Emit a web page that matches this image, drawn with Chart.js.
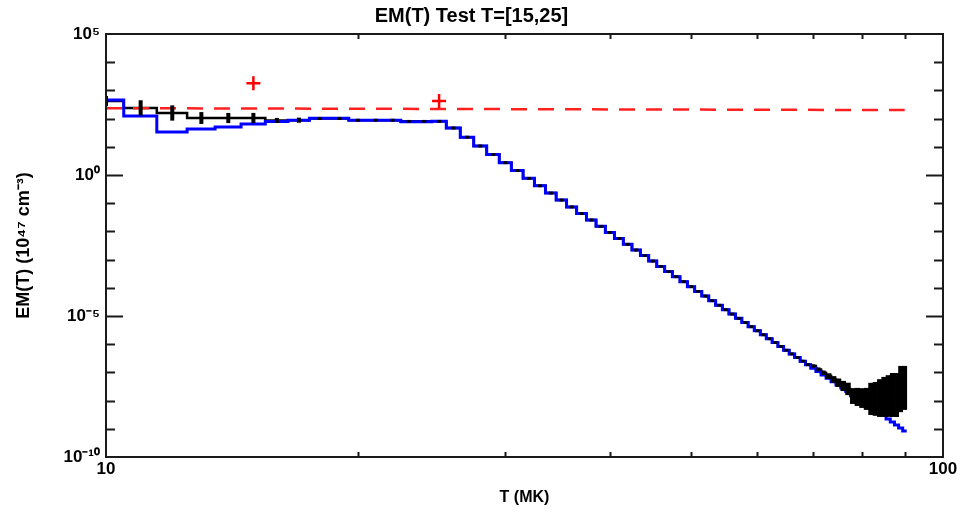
<!DOCTYPE html>
<html>
<head>
<meta charset="utf-8">
<title>EM(T) Test</title>
<script src="https://cdn.jsdelivr.net/npm/chart.js@4.4.1/dist/chart.umd.min.js"></script>
<style>
  html, body { margin: 0; padding: 0; background: #fff; }
  #wrap { width: 964px; height: 516px; }
</style>
</head>
<body>
<div id="wrap"><canvas id="dem" width="964" height="516"></canvas></div>
<script>
// temperature bins (MK), one histogram step each
const binT = [10, 11, 12, 13, 14, 15, 16, 17, 18, 19, 20, 21, 22, 23, 24, 25,
  26, 27, 28, 29, 30, 31, 32, 33, 34, 35, 36, 37, 38, 39, 40, 41, 42, 43, 44, 45,
  46, 47, 48, 49, 50, 51, 52, 53, 54, 55, 56, 57, 58, 59, 60, 61, 62, 63, 64, 65,
  66, 67, 68, 69, 70, 71, 72, 73, 74, 75, 76, 77, 78, 79, 80, 81, 82, 83, 84, 85,
  86, 87, 88, 89, 90];

// input (true) EM, blue histogram
const trueEM = [457, 123, 33.5, 42.7, 50, 64.6, 79, 87, 102, 102, 87, 87, 87, 78, 78, 80,
  46.5, 22.0, 10.7, 5.33, 2.73, 1.43, 0.760, 0.414, 0.229, 0.129,
  0.0738, 0.0430, 0.0253, 0.0151, 9.16e-3, 5.62e-3, 3.49e-3, 2.19e-3, 1.39e-3, 8.89e-4,
  5.75e-4, 3.76e-4, 2.48e-4, 1.65e-4, 1.10e-4, 7.46e-5, 5.08e-5, 3.48e-5, 2.41e-5, 1.67e-5,
  1.17e-5, 8.26e-6, 5.85e-6, 4.17e-6, 2.99e-6, 2.15e-6, 1.56e-6, 1.14e-6, 8.34e-7, 6.12e-7,
  4.53e-7, 3.37e-7, 2.51e-7, 1.88e-7, 1.41e-7, 1.07e-7, 8.09e-8, 6.15e-8, 4.70e-8, 3.61e-8,
  2.77e-8, 2.14e-8, 1.66e-8, 1.29e-8, 1.00e-8, 7.85e-9, 6.17e-9, 4.84e-9, 3.82e-9, 3.02e-9,
  2.24e-9, 1.74e-9, 1.35e-9, 1.07e-9, 8.3e-10];

// recovered EM, black histogram with error bars (half width in dex)
const recEM = [417, 240, 158, 105, 105, 105, 86, 88, 100, 100, 88, 88, 88, 80, 80, 80,
  46.5, 22.0, 10.7, 5.33, 2.73, 1.43, 0.760, 0.414, 0.229, 0.129,
  0.0738, 0.0430, 0.0253, 0.0151, 9.16e-3, 5.62e-3, 3.49e-3, 2.19e-3, 1.39e-3, 8.89e-4,
  5.75e-4, 3.76e-4, 2.48e-4, 1.65e-4, 1.10e-4, 7.46e-5, 5.08e-5, 3.48e-5, 2.41e-5, 1.67e-5,
  1.17e-5, 8.26e-6, 5.85e-6, 4.17e-6, 2.99e-6, 2.15e-6, 1.56e-6, 1.14e-6, 8.34e-7, 6.12e-7,
  4.53e-7, 3.37e-7, 2.51e-7, 1.88e-7, 1.69e-7, 1.28e-7, 9.7e-8, 7.4e-8, 5.6e-8, 4.3e-8,
  3.3e-8, 2.6e-8, 1.45e-8, 1.35e-8, 1.23e-8, 1.15e-8, 1.15e-8, 1.15e-8, 1.23e-8, 1.35e-8,
  1.45e-8, 1.58e-8, 1.58e-8, 2.57e-8, 2.82e-8];
const recErrDex = [0.18, 0.27, 0.27, 0.21, 0.18, 0.18, 0.09, 0.09, 0.05, 0.05, 0.05, 0.05, 0.05, 0.05, 0.05, 0.05,
  0.05, 0.05, 0.05, 0.05, 0.05, 0.05, 0.05, 0.05, 0.05, 0.05,
  0.05, 0.05, 0.05, 0.05, 0.05, 0.05, 0.05, 0.05, 0.05, 0.05,
  0.05, 0.05, 0.05, 0.05, 0.05, 0.05, 0.05, 0.05, 0.05, 0.05,
  0.05, 0.05, 0.05, 0.05, 0.05, 0.05, 0.05, 0.05, 0.05, 0.05,
  0.05, 0.05, 0.05, 0.05, 0.06, 0.07, 0.08, 0.10, 0.12, 0.15,
  0.18, 0.22, 0.28, 0.32, 0.35, 0.39, 0.57, 0.60, 0.67, 0.71,
  0.74, 0.78, 0.78, 0.82, 0.78];

// red dashed level and the two red crosses
const levelT = [10, 90];
const levelEM = [235, 200];
const crossT = [15, 25];
const crossEM = [1800, 420];

// axis ticks
const xTickVals = [10, 20, 30, 40, 50, 60, 70, 80, 90, 100];
const xTickLabels = { 10: '10', 100: '100' };
const yDecades = [-10, -9, -8, -7, -6, -5, -4, -3, -2, -1, 0, 1, 2, 3, 4, 5];
const yTickLabels = { '5': '10⁵', '0': '10⁰', '-5': '10⁻⁵', '-10': '10⁻¹⁰' };

function stepPoints(vals){
  const pts = [];
  binT.forEach((t, i) => {
    pts.push({ x: t - 0.5, y: vals[i] });
    pts.push({ x: t + 0.5, y: vals[i] });
  });
  return pts;
}

const ink = '#1a1a1a';

// vertical error bars on the recovered histogram
const errorBars = {
  id: 'errorBars',
  afterDatasetsDraw(chart){
    const { ctx, chartArea: a, scales: { x, y } } = chart;
    ctx.save();
    ctx.beginPath();
    ctx.rect(a.left, a.top, a.right - a.left, a.bottom - a.top);
    ctx.clip();
    ctx.strokeStyle = '#000';
    binT.forEach((t, i) => {
      const px = x.getPixelForValue(t);
      // where bins crowd together the bars merge into a solid band
      const gap = x.getPixelForValue(t + 1) - px;
      ctx.lineWidth = gap < 5 ? gap + 0.8 : 4;
      const f = Math.pow(10, recErrDex[i]);
      ctx.beginPath();
      ctx.moveTo(px, y.getPixelForValue(recEM[i] * f));
      ctx.lineTo(px, y.getPixelForValue(recEM[i] / f));
      ctx.stroke();
    });
    ctx.restore();
  }
};

// IDL-style box with inward ticks on all four sides
const frame = {
  id: 'frame',
  afterDraw(chart){
    const { ctx, chartArea: a, scales: { x, y } } = chart;
    ctx.save();
    ctx.strokeStyle = ink;
    ctx.lineWidth = 2;
    ctx.strokeRect(a.left, a.top, a.right - a.left, a.bottom - a.top);
    y.ticks.forEach(tk => {
      const py = Math.round(y.getPixelForValue(tk.value)) + 0.5;
      if (py <= a.top + 1 || py >= a.bottom - 1) return;
      const len = tk.label ? 17 : 9;
      ctx.beginPath();
      ctx.moveTo(a.left, py); ctx.lineTo(a.left + len, py);
      ctx.moveTo(a.right, py); ctx.lineTo(a.right - len, py);
      ctx.stroke();
    });
    x.ticks.forEach(tk => {
      const px = Math.round(x.getPixelForValue(tk.value)) + 0.5;
      if (px <= a.left + 1 || px >= a.right - 1) return;
      ctx.beginPath();
      ctx.moveTo(px, a.bottom); ctx.lineTo(px, a.bottom - 5);
      ctx.moveTo(px, a.top); ctx.lineTo(px, a.top + 5);
      ctx.stroke();
    });
    ctx.restore();
  }
};

Chart.defaults.font.family = '"Liberation Sans", Arial, sans-serif';
Chart.defaults.color = '#000';

new Chart(document.getElementById('dem'), {
  type: 'scatter',
  data: {
    datasets: [
      {
        data: crossT.map((t, i) => ({ x: t, y: crossEM[i] })),
        pointStyle: 'cross',
        pointRadius: 7,
        borderWidth: 2.5,
        borderColor: '#ff0000',
        order: 1
      },
      {
        data: levelT.map((t, i) => ({ x: t, y: levelEM[i] })),
        showLine: true,
        borderColor: '#ff2020',
        borderWidth: 2.5,
        borderDash: [16, 11],
        pointRadius: 0,
        order: 2
      },
      {
        data: stepPoints(trueEM),
        showLine: true,
        borderColor: '#0000ff',
        borderWidth: 3,
        pointRadius: 0,
        order: 3
      },
      {
        data: stepPoints(recEM),
        showLine: true,
        borderColor: '#000',
        borderWidth: 2.5,
        pointRadius: 0,
        order: 4
      }
    ]
  },
  options: {
    responsive: false,
    animation: false,
    layout: { padding: { left: 0, right: 21, top: 0, bottom: 0 } },
    plugins: {
      legend: { display: false },
      tooltip: { enabled: false },
      title: {
        display: true,
        text: 'EM(T) Test T=[15,25]',
        font: { size: 20, weight: 'bold' },
        padding: { top: 4, bottom: 6 }
      }
    },
    scales: {
      x: {
        type: 'logarithmic',
        min: 10,
        max: 100,
        afterBuildTicks: s => { s.ticks = xTickVals.map(v => ({ value: v })); },
        afterFit: s => { s.height = 59; },
        grid: { display: false, drawTicks: false },
        border: { display: false },
        ticks: {
          autoSkip: false,
          maxRotation: 0,
          padding: 2,
          font: { size: 17, weight: 'bold' },
          callback: v => xTickLabels[v] || ''
        },
        title: {
          display: true,
          text: 'T (MK)',
          font: { size: 16, weight: 'bold' },
          padding: { top: 0, bottom: 9 }
        }
      },
      y: {
        type: 'logarithmic',
        min: 1e-10,
        max: 1e5,
        afterBuildTicks: s => { s.ticks = yDecades.map(e => ({ value: Math.pow(10, e) })); },
        afterFit: s => { s.width = 106; },
        grid: { display: false, drawTicks: false },
        border: { display: false },
        ticks: {
          autoSkip: false,
          padding: 6,
          font: { size: 17, weight: 'bold' },
          callback: v => yTickLabels[String(Math.round(Math.log10(v)))] || ''
        },
        title: {
          display: true,
          text: 'EM(T) (10⁴⁷ cm⁻³)',
          font: { size: 18, weight: 'bold' },
          padding: { top: 13, bottom: 0 }
        }
      }
    }
  },
  plugins: [errorBars, frame]
});
</script>
</body>
</html>
